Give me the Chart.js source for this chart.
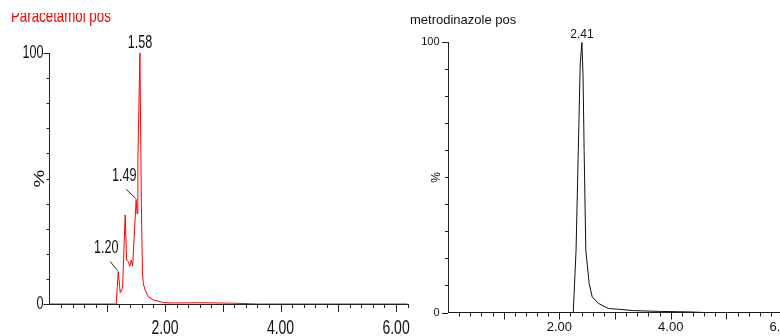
<!DOCTYPE html>
<html>
<head>
<meta charset="utf-8">
<script src="https://cdn.jsdelivr.net/npm/chart.js@4.4.1/dist/chart.umd.min.js"></script>
<style>
  html, body { margin: 0; padding: 0; background: #fff; overflow: hidden; width: 780px; height: 336px; }
  canvas { position: absolute; top: 0; }
  #left { left: 0; }
  #right { left: 400px; }
</style>
</head>
<body>
<canvas id="left" width="415" height="336"></canvas>
<canvas id="right" width="400" height="336"></canvas>
<script>
// Paracetamol pos (retention time in min, relative intensity %)
const paraTime  = [0, 1.155, 1.19, 1.225, 1.265, 1.31, 1.335, 1.365, 1.39, 1.415, 1.44, 1.475, 1.50, 1.515, 1.53, 1.565, 1.59, 1.61, 1.625, 1.655, 1.71, 1.80, 1.97, 2.10, 2.60, 3.20, 3.60, 6.20];
const paraValue = [0, 0, 12.9, 4.5, 6.3, 35.5, 17.5, 16.9, 15.1, 17.5, 15.1, 30.8, 41.7, 36, 57, 100, 40, 12, 8, 5.6, 2.9, 1.6, 0.6, 0.4, 0.5, 0.3, 0, 0];
const paraPeakTime  = [1.19, 1.50, 1.565];
const paraPeakLabel = ['1.20', '1.49', '1.58'];

// metrodinazole pos
const metroTime  = [0, 2.25, 2.30, 2.34, 2.375, 2.405, 2.425, 2.445, 2.475, 2.535, 2.59, 2.70, 2.88, 3.06, 3.33, 3.80, 4.35, 4.60, 6.20];
const metroValue = [0, 0, 23, 60, 92, 100, 88, 60, 23, 10.8, 5.8, 3.4, 1.5, 1.2, 0.7, 0.4, 0.2, 0, 0];
const metroPeakTime  = [2.405];
const metroPeakLabel = ['2.41'];

const xMax = 6.2;
const sans = '"Liberation Sans", Arial, sans-serif';

// text squeezed horizontally (the left trace uses a condensed face)
function drawText(ctx, text, x, y, k) {
  ctx.save();
  ctx.translate(x, y);
  ctx.scale(k, 1);
  ctx.fillText(text, 0, 0);
  ctx.restore();
}

// tick marks, tick labels, peak labels, % and trace title
const decor = {
  id: 'decor',
  afterDatasetsDraw(chart, args, o) {
    const { ctx, chartArea: a, scales: { x, y } } = chart;
    const k = o.squeeze;
    ctx.save();
    ctx.strokeStyle = '#222';
    ctx.lineWidth = 1;
    ctx.beginPath();
    for (let i = 1; i * 0.2 <= x.max + 1e-9; i++) {
      const px = Math.round(x.getPixelForValue(i * 0.2)) + 0.5;
      const len = i % 5 === 0 ? o.xMajor : o.xMinor;
      ctx.moveTo(px, a.bottom);
      ctx.lineTo(px, a.bottom + len);
    }
    for (let v = 0; v <= 100; v += 10) {
      const py = Math.round(y.getPixelForValue(v)) + 0.5;
      const len = (v === 0 || v === 100) ? o.yMajor : o.yMinor;
      ctx.moveTo(a.left, py);
      ctx.lineTo(a.left - len, py);
    }
    ctx.stroke();

    ctx.fillStyle = '#111';
    ctx.textBaseline = 'middle';

    // axis tick labels
    ctx.font = o.xFont;
    ctx.textAlign = 'center';
    x.ticks.forEach(t => {
      if (t.label) drawText(ctx, t.label, x.getPixelForValue(t.value), a.bottom + o.xLabelDy, k);
    });
    ctx.font = o.yFont;
    ctx.textAlign = 'right';
    y.ticks.forEach(t => {
      drawText(ctx, t.label, a.left - o.yLabelGap, y.getPixelForValue(t.value), k);
    });

    // peak labels
    const pts = chart.data.datasets[0].data;
    ctx.font = o.peakFont;
    ctx.textAlign = 'center';
    o.peaks.forEach((p, i) => {
      const pt = pts.find(d => d.x === p);
      const px = x.getPixelForValue(pt.x), py = y.getPixelForValue(pt.y);
      const off = o.offsets[i];
      drawText(ctx, o.labels[i], px + off.dx, py + off.dy, k);
      if (off.lead) {
        ctx.beginPath();
        ctx.moveTo(px + off.lead[0], py + off.lead[1]);
        ctx.lineTo(px - 0.5, py - 1);
        ctx.stroke();
      }
    });

    // % axis label
    ctx.save();
    ctx.translate(a.left - o.pctGap, (a.top + a.bottom) / 2);
    ctx.rotate(-Math.PI / 2);
    ctx.font = o.pctFont;
    ctx.scale(1, k);
    ctx.fillText('%', 0, 0);
    ctx.restore();

    // title
    ctx.save();
    ctx.beginPath();
    ctx.rect(0, o.clipTop, chart.width, chart.height);
    ctx.clip();
    ctx.fillStyle = o.titleColor;
    ctx.font = o.titleFont;
    ctx.textAlign = 'left';
    ctx.textBaseline = 'alphabetic';
    drawText(ctx, o.title, o.titleX, o.titleY, k);
    ctx.restore();
    ctx.restore();
  }
};

function makeChart(id, times, values, color, s) {
  return new Chart(document.getElementById(id), {
    type: 'line',
    data: {
      datasets: [{
        data: times.map((t, i) => ({ x: t, y: values[i] })),
        borderColor: color,
        borderWidth: 1,
        pointRadius: 0,
        tension: 0,
        fill: false
      }]
    },
    options: {
      responsive: false,
      animation: false,
      events: [],
      devicePixelRatio: 1,
      layout: { padding: { left: 0, top: s.top, right: s.right, bottom: 0 } },
      plugins: {
        legend: { display: false },
        tooltip: { enabled: false },
        decor: s.decor
      },
      scales: {
        x: {
          type: 'linear',
          min: 0,
          max: xMax,
          grid: { display: false, drawTicks: false },
          border: { display: true, color: '#222', width: 1 },
          ticks: {
            display: false,
            stepSize: 2,
            includeBounds: false,
            autoSkip: false,
            callback: v => v === 0 ? '' : v.toFixed(2)
          },
          afterFit: sc => { sc.height = s.xHeight; sc.paddingLeft = 0; sc.paddingRight = 0; }
        },
        y: {
          min: 0,
          max: 100,
          grid: { display: false, drawTicks: false },
          border: { display: true, color: '#222', width: 1 },
          ticks: {
            display: false,
            stepSize: 100,
            callback: v => String(v)
          },
          afterFit: sc => { sc.width = s.yWidth; sc.paddingTop = 0; sc.paddingBottom = 0; }
        }
      }
    },
    plugins: [decor]
  });
}

makeChart('left', paraTime, paraValue, 'rgb(255, 0, 0)', {
  top: 53, right: 7.4, xHeight: 32, yWidth: 49.5,
  decor: {
    squeeze: 0.7,
    xMajor: 8, xMinor: 4, yMajor: 6, yMinor: 3,
    xFont: '20px ' + sans, xLabelDy: 24,
    yFont: '18px ' + sans, yLabelGap: 6,
    peaks: paraPeakTime, labels: paraPeakLabel,
    offsets: [
      { dx: -12, dy: -24, lead: [-8, -10] },
      { dx: -12, dy: -23, lead: [-10, -10] },
      { dx: 0, dy: -10 }
    ],
    peakFont: '18px ' + sans,
    pctFont: '20px ' + sans, pctGap: 9,
    title: 'Paracetamol pos', titleColor: 'rgb(255, 0, 0)', titleFont: '19px ' + sans,
    titleX: 11, titleY: 22, clipTop: 13
  }
});

makeChart('right', metroTime, metroValue, '#111', {
  top: 42.3, right: 6.8, xHeight: 23.5, yWidth: 48,
  decor: {
    squeeze: 1,
    xMajor: 7, xMinor: 4, yMajor: 6, yMinor: 3,
    xFont: '13px ' + sans, xLabelDy: 14.5,
    yFont: '11px ' + sans, yLabelGap: 8.5,
    peaks: metroPeakTime, labels: metroPeakLabel,
    offsets: [{ dx: 0, dy: -8 }],
    peakFont: '12px ' + sans,
    pctFont: '12px ' + sans, pctGap: 11,
    title: 'metrodinazole pos', titleColor: '#111', titleFont: '13px ' + sans,
    titleX: 10, titleY: 24, clipTop: 0
  }
});
</script>
</body>
</html>
